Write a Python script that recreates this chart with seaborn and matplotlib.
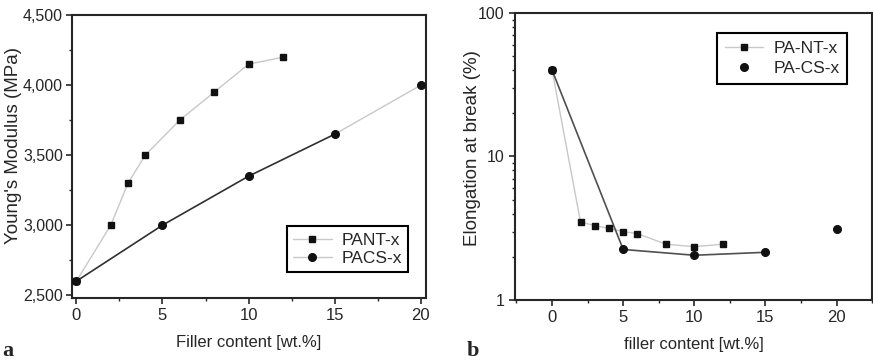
import pandas as pd
import matplotlib
matplotlib.use("Agg")
import matplotlib.pyplot as plt
import matplotlib.ticker as mticker
import seaborn as sns

# Panel a - Young's modulus
pant_x = [0, 2, 3, 4, 6, 8, 10, 12]
pant_modulus = [2600, 3000, 3300, 3500, 3750, 3950, 4150, 4200]
pacs_x = [0, 5, 10, 15, 20]
pacs_modulus = [2600, 3000, 3350, 3650, 4000]

# Panel b - elongation at break
pant_b_x = [0, 2, 3, 4, 5, 6, 8, 10, 12]
pant_elong = [40, 3.5, 3.3, 3.15, 3.0, 2.9, 2.45, 2.35, 2.45]
pacs_b_x = [0, 5, 10, 15, 20]
pacs_elong = [40, 2.25, 2.05, 2.15, 3.1]

sns.set_style("ticks")
plt.rcParams['font.family'] = ['Liberation Sans', 'DejaVu Sans']
plt.rcParams['axes.linewidth'] = 1.5

fig = plt.figure(figsize=(8.73, 3.61), dpi=100)
ax1 = fig.add_axes([0.0825, 0.1745, 0.4055, 0.7835])
ax2 = fig.add_axes([0.59, 0.169, 0.409, 0.795])

light = '#c8c8c8'
dark = '#303030'

# --- panel a
nt_a = pd.DataFrame({'x': pant_x, 'y': pant_modulus})
cs_a = pd.DataFrame({'x': pacs_x, 'y': pacs_modulus})
sns.lineplot(data=nt_a, x='x', y='y', ax=ax1, color=light, lw=1, zorder=1)
sns.lineplot(data=cs_a.iloc[:4], x='x', y='y', ax=ax1, color=dark, lw=1.2, zorder=1)
sns.lineplot(data=cs_a.iloc[3:], x='x', y='y', ax=ax1, color=light, lw=1, zorder=1)
ax1.plot(nt_a.x, nt_a.y, ls='none', marker='s', ms=5, color='#111111', zorder=3)
ax1.plot(cs_a.x, cs_a.y, ls='none', marker='o', ms=5.5, color='#111111', zorder=3)
ax1.set_xlim(-0.25, 20.3)
ax1.set_ylim(2480, 4500)
ax1.xaxis.set_major_locator(mticker.MultipleLocator(5))
ax1.xaxis.set_minor_locator(mticker.MultipleLocator(2.5))
ax1.yaxis.set_major_locator(mticker.MultipleLocator(500))
ax1.yaxis.set_minor_locator(mticker.MultipleLocator(250))
ax1.yaxis.set_major_formatter(mticker.StrMethodFormatter('{x:,.0f}'))
ax1.set_xlabel('Filler content [wt.%]', fontsize=12)
ax1.set_ylabel("Young's Modulus (MPa)", fontsize=13.5)
ax1.yaxis.set_label_coords(-0.14, 0.54)
h1 = [plt.Line2D([], [], color=light, lw=1, marker='s', ms=5, mfc='#111111', mec='#111111'),
      plt.Line2D([], [], color=light, lw=1, marker='o', ms=5.5, mfc='#111111', mec='#111111')]
ax1.legend(h1, ['PANT-x', 'PACS-x'], loc='lower right', bbox_to_anchor=(0.975, 0.06),
           fontsize=12.5, frameon=True, fancybox=False, edgecolor='black', framealpha=1,
           handlelength=2.2, borderpad=0.35, labelspacing=0.2, handletextpad=0.6)
ax1.legend_.get_frame().set_linewidth(1.5)

# --- panel b
nt_b = pd.DataFrame({'x': pant_b_x, 'y': pant_elong})
cs_b = pd.DataFrame({'x': pacs_b_x, 'y': pacs_elong})
sns.lineplot(data=nt_b, x='x', y='y', ax=ax2, color=light, lw=1, zorder=1)
sns.lineplot(data=cs_b.iloc[:4], x='x', y='y', ax=ax2, color='#505050', lw=1.2, zorder=1)
ax2.plot(nt_b.x, nt_b.y, ls='none', marker='s', ms=5, color='#111111', zorder=3)
ax2.plot(cs_b.x, cs_b.y, ls='none', marker='o', ms=5.5, color='#111111', zorder=3)
ax2.set_yscale('log')
ax2.set_xlim(-2.6, 22.5)
ax2.set_ylim(1, 100)
ax2.xaxis.set_major_locator(mticker.MultipleLocator(5))
ax2.xaxis.set_minor_locator(mticker.MultipleLocator(2.5))
ax2.yaxis.set_major_formatter(mticker.FuncFormatter(lambda v, p: f'{v:g}'))
ax2.yaxis.set_minor_formatter(mticker.NullFormatter())
ax2.set_xlabel('filler content [wt.%]', fontsize=12)
ax2.set_ylabel('Elongation at break (%)', fontsize=13.5)
ax2.yaxis.set_label_coords(-0.095, 0.53)
h2 = [plt.Line2D([], [], color=light, lw=1, marker='s', ms=5, mfc='#111111', mec='#111111'),
      plt.Line2D([], [], color='none', lw=1, marker='o', ms=5.5, mfc='#111111', mec='#111111')]
ax2.legend(h2, ['PA-NT-x', 'PA-CS-x'], loc='upper right', bbox_to_anchor=(0.955, 0.96),
           fontsize=12.5, frameon=True, fancybox=False, edgecolor='black', framealpha=1,
           handlelength=2.2, borderpad=0.45, labelspacing=0.3, handletextpad=0.6)
ax2.legend_.get_frame().set_linewidth(1.5)

for ax in (ax1, ax2):
    ax.tick_params(which='major', direction='out', length=4, width=1.2, labelsize=12)
    ax.tick_params(which='minor', direction='out', length=2.5, width=1)
    for s in ax.spines.values():
        s.set_linewidth(1.5)
    ax.xaxis.labelpad = 8
ax1.tick_params(axis='y', which='major', labelsize=11.5, pad=2.5)
ax2.tick_params(axis='y', which='major', labelsize=11.5)

fig.text(0.003, 0.015, 'a', fontsize=16, family='Liberation Serif', fontweight='bold')
fig.text(0.535, 0.015, 'b', fontsize=16, family='Liberation Serif', fontweight='bold')

fig.savefig('out.png', dpi=100)
